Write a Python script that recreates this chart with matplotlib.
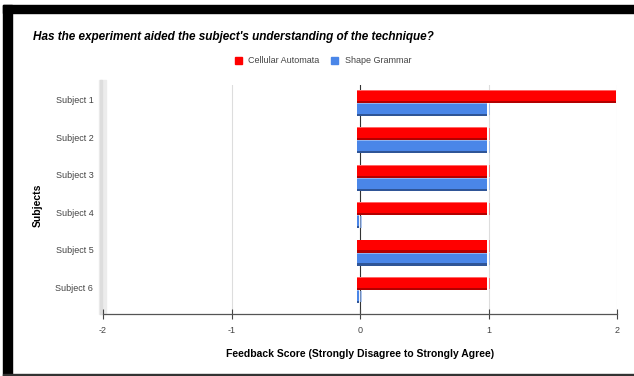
import matplotlib
matplotlib.use("Agg")
import matplotlib.pyplot as plt
import matplotlib.transforms as mtransforms
from matplotlib.patches import Rectangle
import numpy as np

subjects = ["Subject 1", "Subject 2", "Subject 3", "Subject 4", "Subject 5", "Subject 6"]
cellular = [2, 1, 1, 1, 1, 1]
shape = [1, 1, 1, 0, 1, 0]
series = [("Cellular Automata", cellular, "#ff0000", "#b30000", "#ff6666"),
          ("Shape Grammar", shape, "#4a86e8", "#2f5597", "#8fb3f0")]

plt.rcParams['font.family'] = ['Liberation Sans', 'DejaVu Sans']

W, H = 634, 376
fig = plt.figure(figsize=(W / 100, H / 100), dpi=100)

# background layer in pixel coords, for the frame and the 3d shadow
bg = fig.add_axes([0, 0, 1, 1])
bg.set_xlim(0, W)
bg.set_ylim(H, 0)
bg.set_axis_off()
bg.add_patch(Rectangle((3, 5), 9, H, color="black"))
bg.add_patch(Rectangle((3, 5), W, 8, color="black"))
bg.add_patch(Rectangle((3, 374), W, 2, color="#333333"))
bg.add_patch(Rectangle((99, 80), 7, 234, color="#ececec"))
bg.add_patch(Rectangle((100, 80), 1.5, 234, color="#dddddd"))

# main plot area
ax = fig.add_axes([103 / W, (H - 314) / H, 514 / W, 229 / H])
ax.patch.set_alpha(0)
ax.set_xlim(-2, 2)
ax.set_ylim(5.64, -0.48)

bh = 0.35               # bar thickness
sh = 3 / 514.0 * 4      # 3d offset
y = np.arange(len(subjects))

for x in [-1, 1, 2]:
    ax.axvline(x, color="#dddddd", lw=0.8, zorder=0)
ax.axvline(0, color="#333333", lw=0.8, zorder=1)

for k, (name, vals, c, dark, light) in enumerate(series):
    off = -bh / 2 if k == 0 else bh / 2
    left = np.full(len(vals), -sh)
    widths = np.array(vals, dtype=float) + sh * 0.6
    ax.barh(y + off, widths, left=left, height=bh, color=c, zorder=2, label=name)
    # darker bottom edge
    ax.barh(y + off + bh / 2 - 0.03, widths, left=left, height=0.06,
            color=dark, zorder=3)
    # lighter top edge
    ax.barh(y + off - bh / 2 + 0.012, widths, left=left, height=0.024,
            color=light, zorder=3)
    # right cap
    ax.barh(y + off, np.full(len(vals), sh * 0.6), left=np.array(vals, dtype=float),
            height=bh * 0.9, color=light, alpha=0.7, zorder=3)

ax.set_yticks(y)
ax.set_yticklabels(subjects, fontsize=6.5, color="#444444")
ax.tick_params(axis="y", length=0, pad=7)
shift = mtransforms.ScaledTranslation(0, 3 / 100, fig.dpi_scale_trans)
for lab in ax.get_yticklabels():
    lab.set_transform(lab.get_transform() + shift)

ax.set_xticks([-2, -1, 0, 1, 2])
ax.set_xticklabels(["-2", "-1", "0", "1", "2"], fontsize=6.5, color="#444444")
ax.tick_params(axis="x", direction="inout", length=7, width=0.8, color="#444444", pad=5)

for s in ["top", "right", "left"]:
    ax.spines[s].set_visible(False)
ax.spines["bottom"].set_color("#555555")
ax.spines["bottom"].set_linewidth(0.9)

ax.set_xlabel("Feedback Score (Strongly Disagree to Strongly Agree)",
              fontsize=7.5, fontweight="bold", labelpad=10)
fig.text(38 / W, 1 - 205 / H, "Subjects", rotation=90, fontsize=7.5,
         fontweight="bold", ha="center", va="center")

fig.text(33 / W, 1 - 37 / H,
         "Has the experiment aided the subject's understanding of the technique?",
         fontsize=8.5, fontweight="bold", style="italic", ha="left", va="center")

# legend
ly = 1 - 60 / H
fig.patches.append(Rectangle((235 / W, ly - 3.5 / H), 7 / W, 7 / H, color="#ff0000",
                             transform=fig.transFigure, figure=fig))
fig.text(248 / W, ly - 3 / H, "Cellular Automata", fontsize=6.5, color="#444444",
         va="baseline")
fig.patches.append(Rectangle((331 / W, ly - 3.5 / H), 7 / W, 7 / H, color="#4a86e8",
                             transform=fig.transFigure, figure=fig))
fig.text(345 / W, ly - 3 / H, "Shape Grammar", fontsize=6.5, color="#444444",
         va="baseline")

fig.savefig("out.png", dpi=100)
